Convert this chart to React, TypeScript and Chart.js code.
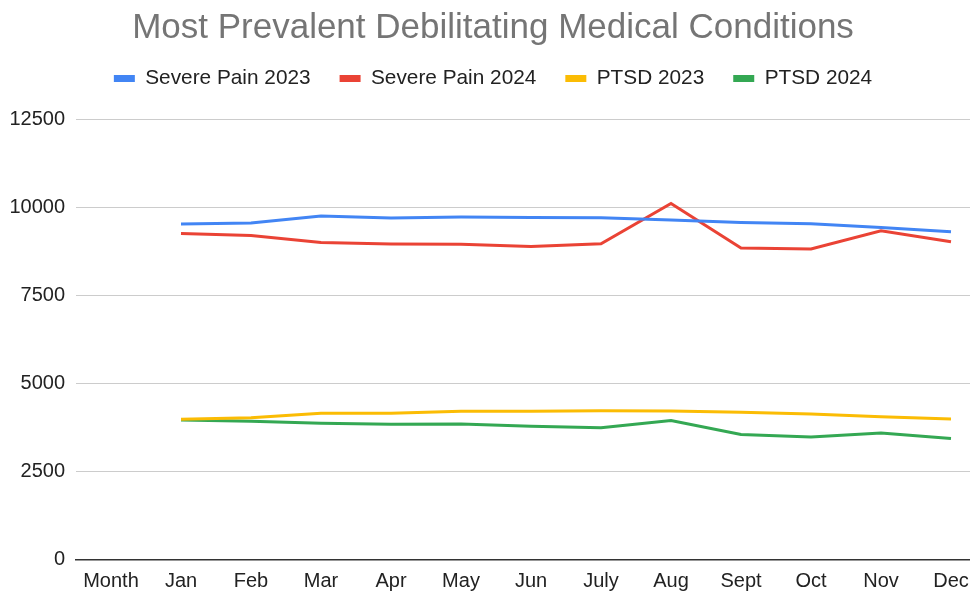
import React, { useEffect, useRef } from "react";
import { Chart, registerables } from "chart.js";

Chart.register(...registerables);

const months = ["Month", "Jan", "Feb", "Mar", "Apr", "May", "Jun", "July", "Aug", "Sept", "Oct", "Nov", "Dec"];
const severePain2023 = [null, 9535, 9563, 9762, 9705, 9733, 9722, 9713, 9648, 9580, 9543, 9438, 9316];
const severePain2024 = [null, 9268, 9211, 9013, 8967, 8960, 8899, 8976, 10119, 8853, 8825, 9344, 9032];
const ptsd2023 = [null, 3981, 4029, 4151, 4151, 4208, 4208, 4228, 4218, 4180, 4132, 4057, 3990];
const ptsd2024 = [null, 3962, 3924, 3868, 3840, 3849, 3783, 3745, 3944, 3547, 3480, 3593, 3434];
const yTicks = [0, 2500, 5000, 7500, 10000, 12500];

const FONT = "'Liberation Sans', Arial, sans-serif";

const legendSpacer = {
  id: "legendSpacer",
  beforeInit(chart: any) {
    const legend = chart.legend;
    if (!legend) return;
    const origFit = legend.fit;
    legend.fit = function () {
      origFit.call(this);
      this.height += 21;
    };
  },
};

export default function App() {
  const ref = useRef<HTMLCanvasElement | null>(null);
  useEffect(() => {
    if (!ref.current) return;
    const ds = (label: string, data: (number | null)[], color: string) => ({
      label,
      data,
      borderColor: color,
      backgroundColor: color,
      borderWidth: 3,
      pointRadius: 0,
      pointHoverRadius: 0,
      tension: 0,
      fill: false,
    });
    const chart = new Chart(ref.current, {
      type: "line",
      data: {
        labels: months,
        datasets: [
          ds("Severe Pain 2023", severePain2023, "#4285F4"),
          ds("Severe Pain 2024", severePain2024, "#EA4335"),
          ds("PTSD 2023", ptsd2023, "#FBBC04"),
          ds("PTSD 2024", ptsd2024, "#34A853"),
        ],
      },
      plugins: [legendSpacer],
      options: {
        animation: false,
        responsive: false,
        devicePixelRatio: 1,
        layout: { padding: { left: 0, right: 6, top: 0, bottom: 0 } },
        plugins: {
          title: {
            display: true,
            text: "Most Prevalent Debilitating Medical Conditions",
            color: "#757575",
            font: { family: FONT, size: 35, weight: "normal", lineHeight: 22 / 35 },
            padding: { top: 17, bottom: 0 },
          },
          legend: {
            display: true,
            labels: {
              color: "#222222",
              font: { family: FONT, size: 20.8 },
              boxWidth: 21,
              boxHeight: 7,
              padding: 29,
              generateLabels: (c: any) =>
                Chart.defaults.plugins.legend.labels.generateLabels(c).map((it: any) => ({ ...it, lineWidth: 0 })),
            },
          },
          tooltip: { enabled: false },
        },
        scales: {
          x: {
            offset: true,
            afterFit: (scale: any) => {
              scale.height = 32.7;
            },
            grid: { display: false, drawTicks: false },
            border: { display: true, color: "#333333", width: 1.5 },
            ticks: {
              color: "#222222",
              font: { family: FONT, size: 20 },
              padding: 10,
              autoSkip: false,
              maxRotation: 0,
            },
          },
          y: {
            min: 0,
            max: 12500,
            afterBuildTicks: (scale: any) => {
              scale.ticks = yTicks.map((v) => ({ value: v }));
            },
            afterFit: (scale: any) => {
              scale.width = 76;
            },
            grid: { color: "#cccccc", lineWidth: 1, drawTicks: false },
            border: { display: false },
            ticks: {
              color: "#222222",
              font: { family: FONT, size: 20 },
              padding: 11,
              callback: (v: any) => String(v),
            },
          },
        },
      },
    });
    return () => chart.destroy();
  }, []);
  return (
    <div style={{ position: "fixed", left: 0, top: 0, width: 970, height: 592, overflow: "hidden", background: "#ffffff" }}>
      <canvas ref={ref} width={992} height={592} style={{ display: "block", width: 992, height: 592 }} />
    </div>
  );
}
